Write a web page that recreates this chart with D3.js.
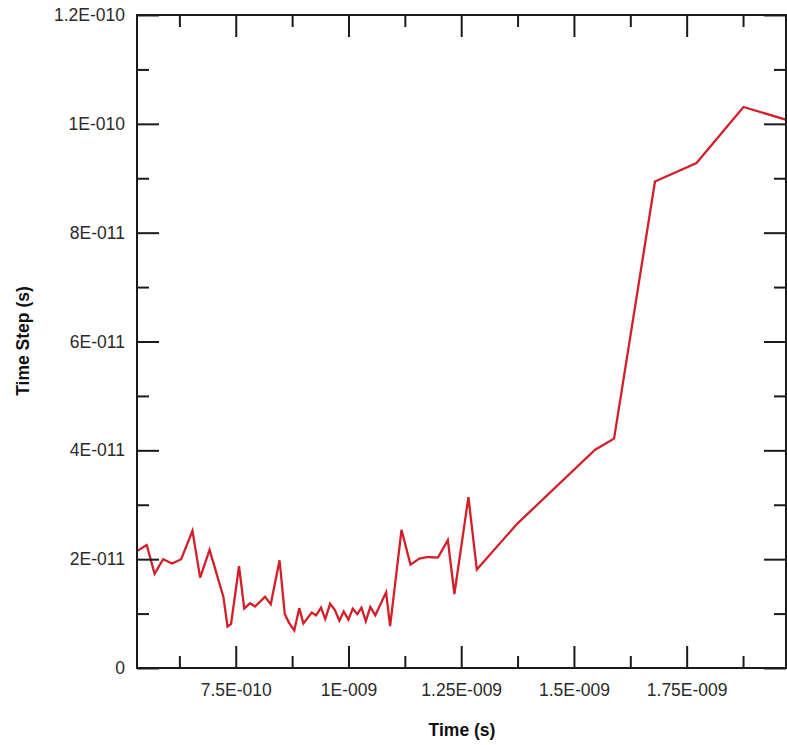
<!DOCTYPE html>
<html>
<head>
<meta charset="utf-8">
<script src="https://cdn.jsdelivr.net/npm/d3@7"></script>
<style>
  html, body { margin: 0; padding: 0; background: #fff; }
  svg { display: block; }
</style>
</head>
<body>
<svg id="chart" width="787" height="745"></svg>
<script>
// ---- data (seconds) ----
const times = [
  0.531e-9, 0.5526e-9, 0.570e-9, 0.589e-9, 0.609e-9, 0.629e-9, 0.654e-9, 0.671e-9, 0.692e-9, 0.7225e-9,
  0.7318e-9, 0.7396e-9, 0.7573e-9, 0.7689e-9, 0.7817e-9, 0.7928e-9, 0.815e-9, 0.8276e-9, 0.8472e-9, 0.8587e-9,
  0.8682e-9, 0.8798e-9, 0.8909e-9, 0.900e-9, 0.9186e-9, 0.9281e-9, 0.9392e-9, 0.9485e-9, 0.9592e-9, 0.9696e-9,
  0.9798e-9, 0.9894e-9, 0.9998e-9, 1.0095e-9, 1.0195e-9, 1.0288e-9, 1.0384e-9, 1.0484e-9, 1.0595e-9, 1.0834e-9,
  1.0923e-9, 1.1176e-9, 1.1375e-9, 1.1571e-9, 1.1766e-9, 1.1983e-9, 1.2203e-9, 1.2349e-9, 1.266e-9, 1.2846e-9,
  1.374e-9, 1.547e-9, 1.589e-9, 1.6797e-9, 1.7718e-9, 1.876e-9, 1.973e-9
];
const timeSteps = [
  2.15e-11, 2.26e-11, 1.73e-11, 2.0e-11, 1.92e-11, 2.0e-11, 2.52e-11, 1.66e-11, 2.17e-11, 1.31e-11,
  0.76e-11, 0.81e-11, 1.87e-11, 1.09e-11, 1.19e-11, 1.13e-11, 1.31e-11, 1.17e-11, 1.98e-11, 0.99e-11,
  0.83e-11, 0.69e-11, 1.10e-11, 0.82e-11, 1.02e-11, 0.965e-11, 1.11e-11, 0.90e-11, 1.18e-11, 1.07e-11,
  0.87e-11, 1.04e-11, 0.89e-11, 1.09e-11, 0.99e-11, 1.11e-11, 0.86e-11, 1.12e-11, 0.97e-11, 1.39e-11,
  0.77e-11, 2.54e-11, 1.90e-11, 2.01e-11, 2.04e-11, 2.03e-11, 2.35e-11, 1.36e-11, 3.14e-11, 1.81e-11,
  2.65e-11, 4.01e-11, 4.215e-11, 8.94e-11, 9.28e-11, 10.31e-11, 10.07e-11
];
const xTickValues = [0.75e-9, 1.0e-9, 1.25e-9, 1.5e-9, 1.75e-9];
const xTickLabels = ["7.5E-010", "1E-009", "1.25E-009", "1.5E-009", "1.75E-009"];
const xMinorValues = [0.625e-9, 0.875e-9, 1.125e-9, 1.375e-9, 1.625e-9, 1.875e-9];
const yTickValues = [0, 2e-11, 4e-11, 6e-11, 8e-11, 10e-11, 12e-11];
const yTickLabels = ["0", "2E-011", "4E-011", "6E-011", "8E-011", "1E-010", "1.2E-010"];
const yMinorValues = [1e-11, 3e-11, 5e-11, 7e-11, 9e-11, 11e-11];
const xTitle = "Time (s)";
const yTitle = "Time Step (s)";

// ---- layout ----
const L = 137, R = 787, T = 15, B = 668;
const svg = d3.select("#chart");

const x = d3.scaleLinear().domain([0.531e-9, 1.9725e-9]).range([L, R]);
const y = d3.scaleLinear().domain([0, 1.2e-10]).range([B, T]);

const FONT = "Arial, 'Liberation Sans', Helvetica, sans-serif";
const MAJ = 22, MIN = 12;

// clip for data
svg.append("clipPath").attr("id", "clip")
  .append("rect").attr("x", L).attr("y", T).attr("width", R - L).attr("height", B - T);

// line
const line = d3.line().x((d, i) => x(times[i])).y((d, i) => y(timeSteps[i]));
svg.append("path")
  .datum(timeSteps)
  .attr("clip-path", "url(#clip)")
  .attr("fill", "none")
  .attr("stroke", "#d21f29")
  .attr("stroke-width", 2.3)
  .attr("stroke-linejoin", "miter")
  .attr("d", line);

function styleAxis(g) {
  g.select(".domain").remove();
  g.selectAll(".tick line").attr("stroke", "#1a1a1a").attr("stroke-width", 2);
  g.selectAll("text").attr("font-family", FONT).attr("font-size", "17.5px").attr("fill", "#2a2a2a");
}

// bottom major
svg.append("g").attr("transform", `translate(0,${B})`)
  .call(d3.axisBottom(x).tickValues(xTickValues).tickSize(-MAJ).tickPadding(16)
    .tickFormat((d, i) => xTickLabels[i]))
  .call(styleAxis);
// bottom minor
svg.append("g").attr("transform", `translate(0,${B})`)
  .call(d3.axisBottom(x).tickValues(xMinorValues).tickSize(-MIN).tickFormat(""))
  .call(styleAxis);
// top major/minor
svg.append("g").attr("transform", `translate(0,${T})`)
  .call(d3.axisTop(x).tickValues(xTickValues).tickSize(-MAJ).tickFormat(""))
  .call(styleAxis);
svg.append("g").attr("transform", `translate(0,${T})`)
  .call(d3.axisTop(x).tickValues(xMinorValues).tickSize(-MIN).tickFormat(""))
  .call(styleAxis);
// left
svg.append("g").attr("transform", `translate(${L},0)`)
  .call(d3.axisLeft(y).tickValues(yTickValues).tickSize(-MAJ).tickPadding(12)
    .tickFormat((d, i) => yTickLabels[i]))
  .call(styleAxis);
svg.append("g").attr("transform", `translate(${L},0)`)
  .call(d3.axisLeft(y).tickValues(yMinorValues).tickSize(-MIN).tickFormat(""))
  .call(styleAxis);
// right
svg.append("g").attr("transform", `translate(${R - 1},0)`)
  .call(d3.axisRight(y).tickValues(yTickValues).tickSize(-MAJ).tickFormat(""))
  .call(styleAxis);
svg.append("g").attr("transform", `translate(${R - 1},0)`)
  .call(d3.axisRight(y).tickValues(yMinorValues).tickSize(-MIN).tickFormat(""))
  .call(styleAxis);

// frame
svg.append("rect")
  .attr("x", L).attr("y", T).attr("width", R - 1 - L).attr("height", B - T)
  .attr("fill", "none").attr("stroke", "#1a1a1a").attr("stroke-width", 2);

// titles
svg.append("text")
  .attr("x", (L + R) / 2).attr("y", 736)
  .attr("text-anchor", "middle")
  .attr("font-family", FONT).attr("font-weight", "bold").attr("font-size", "17.5px")
  .attr("fill", "#111")
  .text(xTitle);
svg.append("text")
  .attr("transform", `translate(29,341) rotate(-90)`)
  .attr("text-anchor", "middle")
  .attr("font-family", FONT).attr("font-weight", "bold").attr("font-size", "17.5px")
  .attr("fill", "#111")
  .text(yTitle);
</script>
</body>
</html>
